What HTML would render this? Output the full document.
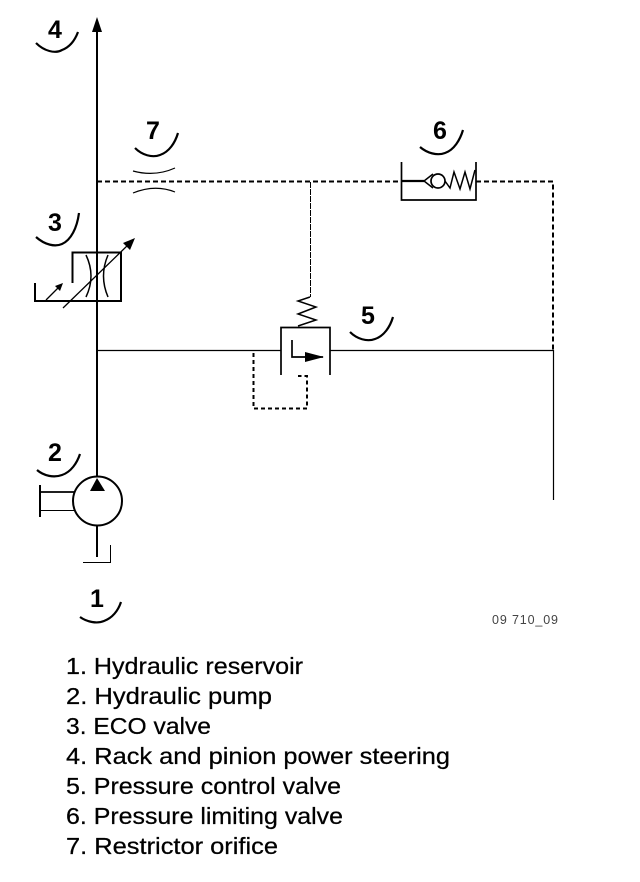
<!DOCTYPE html>
<html><head><meta charset="utf-8"><style>
html,body{margin:0;padding:0;background:#fff}
svg{display:block}
text{font-family:"Liberation Sans",sans-serif;fill:#000}
.n{font-size:25px;font-weight:bold;text-anchor:middle}
.l{font-size:23px;stroke:#000;stroke-width:.25}
.a{fill:none;stroke:#000;stroke-width:2.2}
</style></head><body>
<svg width="640" height="882" viewBox="0 0 640 882" xmlns="http://www.w3.org/2000/svg">
<g fill="none" stroke="#000">
<path d="M97 28V476M97 525V557" stroke-width="2"/>
<path d="M97 181.5H401M476 181.5H553V350" stroke-width="2" stroke-dasharray="5 3"/>
<path d="M97 350.5H281M330 350.5H553.5V500" stroke-width="1.2"/>
<path d="M310.500 182V297" stroke-width="1" stroke-dasharray="6 1"/>
<!-- valve 3 -->
<path d="M72.500 283V252.500H121V301H35V283" stroke-width="2"/>
<path d="M86 255Q96 276 86 297M108 255Q99 276 108 297" stroke-width="1.500"/>
<path d="M63 308L128 245M46 300L60 286" stroke-width="1.300"/>
<!-- valve 5 -->
<path d="M281 375V327.500H330V375" stroke-width="1.700"/>
<path d="M292 340V357H323" stroke-width="1.700"/>
<path d="M253.500 353V408.500H307V376H298" stroke-width="2" stroke-dasharray="4 3"/>
<path d="M310 297L298 301L316 307L298 314L316 320L298 326" stroke-width="1.500"/>
<!-- pump -->
<circle cx="97.500" cy="501" r="24.500" stroke-width="2" />
<path d="M40 485V517" stroke-width="2"/>
<path d="M40 492H74" stroke-width="1.700"/><path d="M40 510.500H74" stroke-width="1"/>
<path d="M83 562.500H110.500V545" stroke-width="1"/>
<!-- valve 6 -->
<path d="M401.500 162V200H476V162" stroke-width="1.700"/>
<path d="M401 181H424" stroke-width="2.200"/>
<path d="M433 174L424 181L433 188" stroke-width="1.500"/>
<circle cx="438" cy="181" r="7" stroke-width="1.700"/>
<path d="M445 181L450 188L454 172L460 189L465 172L470 189L475 170" stroke-width="1.500"/>
<!-- restrictor -->
<path d="M133 171Q155 177 175 168M133 193Q155 184 175 192" stroke-width="1.200"/>
<!-- leader arcs -->
<path class="a" d="M36 43C44 51 55 54 62 50C70 47 75 40 78 32"/>
<path class="a" d="M36 237C45 245 55 247 62 244C71 240 77 228 79 213"/>
<path class="a" d="M135 148C142 155 152 158 160 155C169 152 175 143 178 133"/>
<path class="a" d="M350 332C357 339 367 342 375 339C384 336 390 327 393 317"/>
<path class="a" d="M37 470C44 476 54 478 62 475C71 472 77 463 80 454"/>
<path class="a" d="M80 617C87 622 97 624 104 621C112 618 118 611 121 602"/>
<path class="a" d="M420 147C427 153 437 156 445 153C454 150 460 140 463 130"/>
</g>
<path d="M97 17L102 32H92Z"/>
<path d="M135 238L130 250L123 243Z"/>
<path d="M63 283L60 291L55 286Z"/>
<path d="M324 357L305 352V362Z"/>
<path d="M97 478L105 491H90Z"/>
<text class="n" x="55" y="38">4</text>
<text class="n" x="55" y="231">3</text>
<text class="n" x="153" y="139">7</text>
<text class="n" x="368" y="324">5</text>
<text class="n" x="55" y="461">2</text>
<text class="n" x="97" y="607">1</text>
<text class="n" x="440" y="139">6</text>
<text x="492" y="624" font-size="12.500" style="fill:#444" textLength="66">09 710_09</text>
<text class="l" x="66" y="674" textLength="237" lengthAdjust="spacingAndGlyphs">1. Hydraulic reservoir</text>
<text class="l" x="66" y="704" textLength="206" lengthAdjust="spacingAndGlyphs">2. Hydraulic pump</text>
<text class="l" x="66" y="734" textLength="145" lengthAdjust="spacingAndGlyphs">3. ECO valve</text>
<text class="l" x="66" y="764" textLength="384" lengthAdjust="spacingAndGlyphs">4. Rack and pinion power steering</text>
<text class="l" x="66" y="794" textLength="275" lengthAdjust="spacingAndGlyphs">5. Pressure control valve</text>
<text class="l" x="66" y="824" textLength="277" lengthAdjust="spacingAndGlyphs">6. Pressure limiting valve</text>
<text class="l" x="66" y="854" textLength="212" lengthAdjust="spacingAndGlyphs">7. Restrictor orifice</text>
</svg>
</body></html>
